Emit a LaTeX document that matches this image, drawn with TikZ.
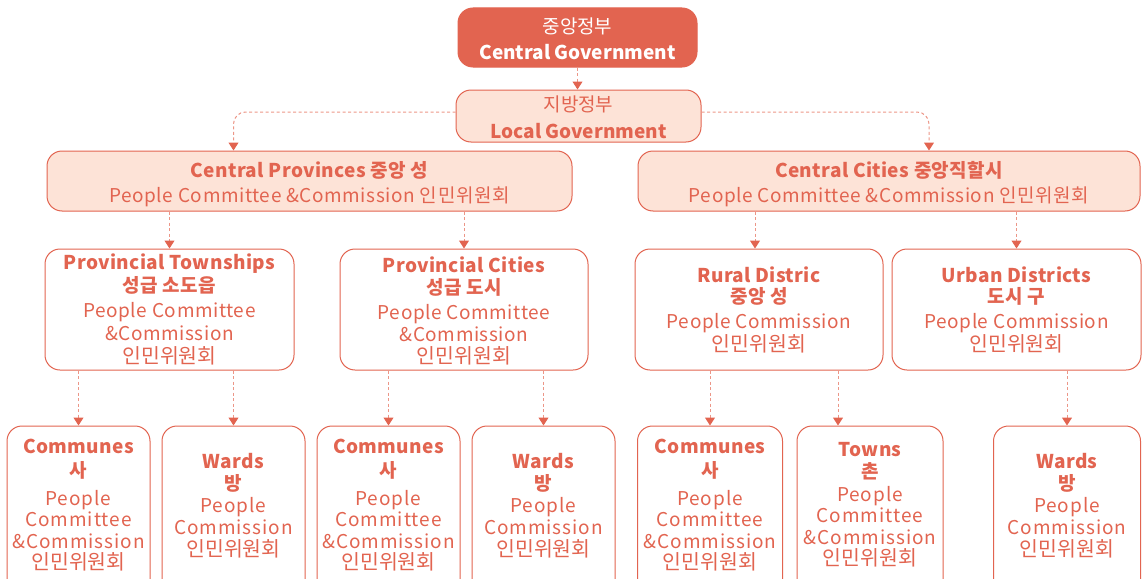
\documentclass[tikz,border=0pt]{standalone}
\usepackage{fontspec}
\setmainfont{Noto Sans CJK KR}
\usetikzlibrary{arrows.meta}
\definecolor{coral}{RGB}{226,100,80}
\definecolor{peach}{RGB}{253,227,215}
\definecolor{dashc}{RGB}{236,150,135}
\tikzset{
  box/.style={draw=coral, line width=1pt, rounded corners=15pt, inner sep=0pt},
  lbox/.style={box, fill=peach},
  wbox/.style={box, fill=white},
  txt/.style={text=coral, align=center, inner sep=0pt},
  con/.style={draw=dashc, line width=1pt, dash pattern=on 3pt off 2.5pt, rounded corners=12pt,
    -{Triangle[width=10pt,length=8pt,color=coral]}},
}
\newcommand\bt{\bfseries\addfontfeature{LetterSpace=2}}
\newcommand\rg{\addfontfeature{LetterSpace=3}}
\newcommand\rgw{\addfontfeature{LetterSpace=5}}
\newcommand\kr{\fontsize{20.5}{22}\selectfont\addfontfeature{LetterSpace=0}}
\begin{document}
\begin{tikzpicture}[x=1pt,y=-1pt]
\clip (0,0) rectangle (1142,578);
% level 0/1
\node[box, fill=coral, minimum width=239pt, minimum height=59pt] (CG) at (577.5,37.5) {};
\node[txt, text=white, font=\fontsize{19}{26}\selectfont] (CGt) at (577.5,38.5) {중앙정부\\\bfseries Central Government};
\node[lbox, minimum width=245pt, minimum height=52pt] (LG) at (578.5,116) {};
\node[txt, font=\fontsize{19}{27}\selectfont] (LGt) at (578.5,117.5) {지방정부\\\bfseries Local Government};
% level 2
\node[lbox, minimum width=525pt, minimum height=60pt] (CP) at (309.5,181) {};
\node[txt, font=\fontsize{19}{25}\selectfont] (CPt) at (309.5,184) {\bt Central Provinces 중앙 성\\\rg People Committee \&Commission 인민위원회};
\node[lbox, minimum width=502pt, minimum height=60pt] (CC) at (889,181) {};
\node[txt, font=\fontsize{19}{25}\selectfont] (CCt) at (889,184) {\bt Central Cities 중앙직할시\\\rg People Committee \&Commission 인민위원회};
% level 3
\node[wbox, minimum width=249pt, minimum height=121pt] (PT) at (169.5,309.5) {};
\node[txt, font=\fontsize{19}{23}\selectfont] (PTt) at (169.5,309) {\bt Provincial Townships\\\bt 성급 소도읍\\[2pt]\rg People Committee\\\rg\&Commission\\\kr 인민위원회};
\node[wbox, minimum width=248pt, minimum height=121pt] (PC) at (464,309.5) {};
\node[txt, font=\fontsize{19}{22}\selectfont] (PCt) at (464,310.5) {\bt Provincial Cities\\\bt 성급 도시\\[3pt]\rg People Committee\\\rg\&Commission\\\kr 인민위원회};
\node[wbox, minimum width=248pt, minimum height=121pt] (RD) at (759,309.5) {};
\node[txt, font=\fontsize{19}{21}\selectfont] (RDt) at (759,310) {\bt Rural Distric\\\bt 중앙 성\\[4pt]\rg People Commission\\\kr 인민위원회};
\node[wbox, minimum width=249pt, minimum height=121pt] (UD) at (1016.5,309.5) {};
\node[txt, font=\fontsize{19}{21}\selectfont] (UDt) at (1016.5,310) {\bt Urban Districts\\\bt 도시 구\\[4pt]\rg People Commission\\\kr 인민위원회};
% level 4
\node[wbox, minimum width=143pt, minimum height=168pt] (C1) at (78.5,510) {};
\node[txt, font=\fontsize{19}{21.5}\selectfont] (C1t) at (78.5,505.5) {\bt Communes\\[2.5pt]\bt 사\\[6pt]\rgw People\\\rgw Committee\\\rgw\&Commission\\\kr 인민위원회};
\node[wbox, minimum width=143pt, minimum height=168pt] (W1) at (233.5,510) {};
\node[txt, font=\fontsize{19}{22}\selectfont] (W1t) at (233.5,505.5) {\bt Wards\\\bt 방\\\rgw People\\\rgw Commission\\\kr 인민위원회};
\node[wbox, minimum width=143pt, minimum height=168pt] (C2) at (388.5,510) {};
\node[txt, font=\fontsize{19}{21.5}\selectfont] (C2t) at (388.5,505.5) {\bt Communes\\[2.5pt]\bt 사\\[6pt]\rgw People\\\rgw Committee\\\rgw\&Commission\\\kr 인민위원회};
\node[wbox, minimum width=143pt, minimum height=168pt] (W2) at (543.5,510) {};
\node[txt, font=\fontsize{19}{22}\selectfont] (W2t) at (543.5,505.5) {\bt Wards\\\bt 방\\\rgw People\\\rgw Commission\\\kr 인민위원회};
\node[wbox, minimum width=145pt, minimum height=168pt] (C3) at (710,510) {};
\node[txt, font=\fontsize{19}{21.5}\selectfont] (C3t) at (710,505.5) {\bt Communes\\[2.5pt]\bt 사\\[6pt]\rgw People\\\rgw Committee\\\rgw\&Commission\\\kr 인민위원회};
\node[wbox, minimum width=146pt, minimum height=168pt] (T) at (870,510) {};
\node[txt, font=\fontsize{19}{21.5}\selectfont] (Tt) at (870,505) {\bt Towns\\\bt 촌\\[1.5pt]\rgw People\\\rgw Committee\\\rgw\&Commission\\\kr 인민위원회};
\node[wbox, minimum width=147pt, minimum height=168pt] (W3) at (1067,510) {};
\node[txt, font=\fontsize{19}{22}\selectfont] (W3t) at (1067,505.5) {\bt Wards\\\bt 방\\\rgw People\\\rgw Commission\\\kr 인민위원회};
% connectors
\draw[con] (CG.south) -- (CG.south |- LG.north);
\draw[con] ([yshift=4pt]LG.west) -| ([xshift=-76pt]CP.north);
\draw[con] ([yshift=4pt]LG.east) -| ([xshift=40pt]CC.north);
\draw[con] (PT.north |- CP.south) -- (PT.north);
\draw[con] (PC.north |- CP.south) -- (PC.north);
\draw[con] ([xshift=-4pt]RD.north |- CC.south) -- ([xshift=-4pt]RD.north);
\draw[con] (UD.north |- CC.south) -- (UD.north);
\draw[con] (C1.north |- PT.south) -- (C1.north);
\draw[con] (W1.north |- PT.south) -- (W1.north);
\draw[con] (C2.north |- PC.south) -- (C2.north);
\draw[con] (W2.north |- PC.south) -- (W2.north);
\draw[con] (C3.north |- RD.south) -- (C3.north);
\draw[con] ([xshift=-32pt]T.north |- RD.south) -- ([xshift=-32pt]T.north);
\draw[con] (W3.north |- UD.south) -- (W3.north);
\end{tikzpicture}
\end{document}
